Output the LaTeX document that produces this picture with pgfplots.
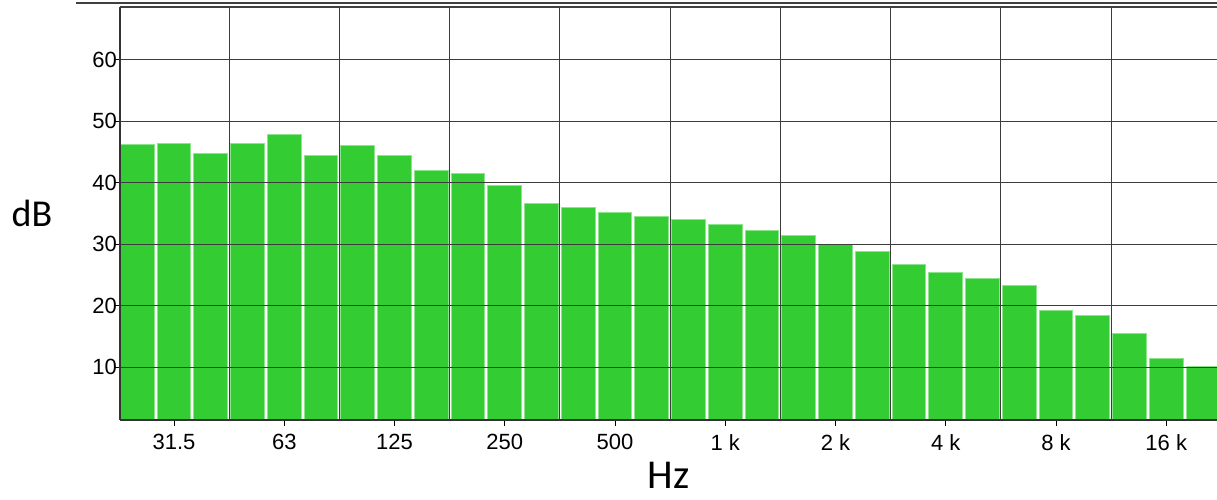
\documentclass[border=0pt]{standalone}
\usepackage{pgfplots}
\pgfplotsset{compat=1.18}
\usepackage{fontspec}
\setmainfont{Liberation Sans}
\newfontfamily\labfont{Carlito}
\definecolor{barg}{RGB}{51,204,51}
\definecolor{bare}{RGB}{140,228,140}
\definecolor{gridc}{RGB}{60,60,60}
\begin{document}
\begin{tikzpicture}
\begin{axis}[
  scale only axis,
  width=548.5pt, height=206.5pt,
  xmin=-0.47, xmax=29.38,
  ymin=1.4, ymax=68.6,
  axis x line*=bottom, axis y line*=left,
  axis line style={draw=black!80, line width=0.6pt, -},
  xtick={1,4,7,10,13,16,19,22,25,28},
  xticklabels={31.5,63,125,250,500,1 k,2 k,4 k,8 k,16 k},
  minor xtick={2.5,5.5,8.5,11.5,14.5,17.5,20.5,23.5,26.5},
  ytick={10,20,30,40,50,60},
  ymajorgrids, xminorgrids,
  major grid style={draw=gridc, line width=0.5pt},
  minor grid style={draw=gridc, line width=0.5pt},
  minor tick length=0pt,
  major tick length=3pt,
  tick align=outside,
  tick style={draw=black, line width=0.5pt},
  tick label style={font=\fontsize{11}{13}\selectfont},
  /pgf/number format/assume math mode=true,
  xticklabel style={yshift=-0.5pt},
  yticklabel style={xshift=5pt},
  xlabel={Hz}, ylabel={dB},
  every axis x label/.style={at={(axis description cs:0.5,0)}, yshift=-27.5pt, anchor=center, font=\labfont\fontsize{20.5}{24}\selectfont},
  every axis y label/.style={at={(axis description cs:0,0.5)}, xshift=-44pt, anchor=center, font=\labfont\fontsize{19}{22}\selectfont},
  axis on top,
  clip=true,
]
\addplot[ybar, bar width=0.92, fill=barg, draw=bare, line width=0.5pt, bar shift=0pt] coordinates {
(0,46.17) (1,46.45) (2,44.7) (3,46.45) (4,47.85) (5,44.4)
(6,46.12) (7,44.38) (8,42.05) (9,41.5) (10,39.5) (11,36.57)
(12,36.03) (13,35.12) (14,34.56) (15,33.96) (16,33.15) (17,32.28)
(18,31.41) (19,30.0) (20,28.76) (21,26.76) (22,25.34) (23,24.48)
(24,23.34) (25,19.27) (26,18.40) (27,15.53) (28,11.46) (29,10.05)
};
\draw[draw=black!75, line width=0.6pt] (rel axis cs:0,1) -- (rel axis cs:1,1);
\end{axis}
\draw[draw=black!75, line width=0.6pt] (-22pt,208.5pt) -- (548.5pt,208.5pt);
\pgfresetboundingbox
\path (-60pt,-39.5pt) rectangle (548.5pt,210pt);
\end{tikzpicture}
\end{document}
